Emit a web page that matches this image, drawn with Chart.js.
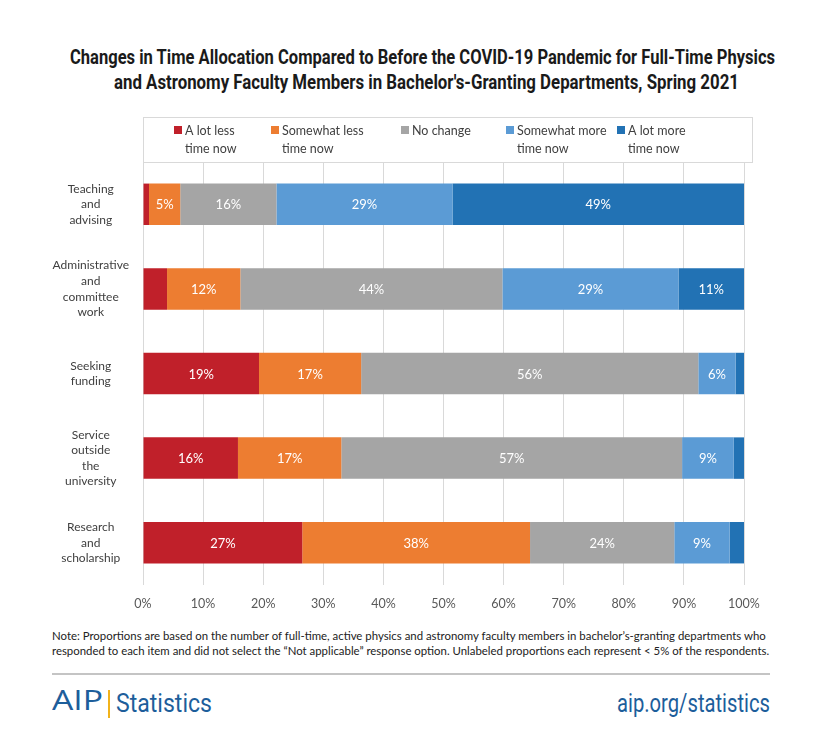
<!DOCTYPE html>
<html>
<head>
<meta charset="utf-8">
<script src="https://cdn.jsdelivr.net/npm/chart.js@4.4.1/dist/chart.umd.min.js"></script>
<style>
  html, body { margin: 0; padding: 0; background: #fff; }
  body { width: 820px; height: 754px; position: relative; overflow: hidden; font-family: Lato, sans-serif; }
  .fit { position: absolute; white-space: nowrap; transform-origin: 0 0; }
  .title { font-family: Roboto, sans-serif; font-weight: bold; font-size: 20px; line-height: 24px; color: #1a1a1a; }
  #wrap { position: absolute; top: 100px; left: 0; width: 820px; height: 527px; }
  #note {
    position: absolute; top: 628px; left: 52px; width: 740px;
    font-size: 11.4px; line-height: 15px; color: #222;
  }
  #rule { position: absolute; top: 673px; left: 52px; width: 718px; height: 2px; background: #c4c4c4; }
  .blue { color: #1d5e9b; font-size: 26px; line-height: 30px; }
  .narrow { font-family: Roboto, sans-serif; }
  #aip { font-family: 'Open Sans', sans-serif; font-size: 27px; }
  #ybar { position: absolute; left: 108px; top: 690px; width: 2px; height: 28px; background: #f2b31b; }
</style>
</head>
<body>
<div class="fit title" id="t1" data-w="705" style="left:70px; top:45px;">Changes in Time Allocation Compared to Before the COVID-19 Pandemic for Full-Time Physics</div>
<div class="fit title" id="t2" data-w="625" style="left:114px; top:70px;">and Astronomy Faculty Members in Bachelor's-Granting Departments, Spring 2021</div>
<div id="wrap"><canvas id="chart"></canvas></div>
<div id="note">Note: Proportions are based on the number of full-time, active physics and astronomy faculty members in bachelor’s-granting departments who responded to each item and did not select the “Not applicable” response option. Unlabeled proportions each represent &lt; 5% of the respondents.</div>
<div id="rule"></div>
<div class="fit blue" id="aip" data-w="51" style="left:52px; top:685px;">AIP</div>
<div id="ybar"></div>
<div class="fit blue narrow" data-w="96" style="left:116px; top:688px;">Statistics</div>
<div class="fit blue narrow" data-w="153" style="left:617px; top:688px;">aip.org/statistics</div>

<script>
// categories (multi-line axis labels)
const categories = [
    ['Teaching', 'and', 'advising'],
    ['Administrative', 'and', 'committee', 'work'],
    ['Seeking', 'funding'],
    ['Service', 'outside', 'the', 'university'],
    ['Research', 'and', 'scholarship']
];

// series names (two-line legend text)
const seriesNames = [
    ['A lot less', 'time now'],
    ['Somewhat less', 'time now'],
    ['No change'],
    ['Somewhat more', 'time now'],
    ['A lot more', 'time now']
];

const seriesColors = ['#c0202a', '#ed7d31', '#a5a5a5', '#5b9bd5', '#2272b4'];

// percent of respondents, per category in the order above
const aLotLess     = [1.0, 4.0, 19.3, 15.8, 26.5];
const somewhatLess = [5.2, 12.2, 17.0, 17.2, 37.9];
const noChange     = [16.0, 43.6, 56.1, 56.7, 24.0];
const somewhatMore = [29.3, 29.3, 6.2, 8.6, 9.2];
const aLotMore     = [48.5, 10.9, 1.4, 1.7, 2.4];

const seriesValues = [aLotLess, somewhatLess, noChange, somewhatMore, aLotMore];

const xTicks = [0, 10, 20, 30, 40, 50, 60, 70, 80, 90, 100];

document.addEventListener('DOMContentLoaded', function () {
    // squeeze condensed-looking text to its measured width
    document.querySelectorAll('.fit[data-w]').forEach(el => {
        const w = el.getBoundingClientRect().width;
        el.style.transform = 'scaleX(' + (parseFloat(el.dataset.w) / w) + ')';
    });

    const ctx = document.getElementById('chart').getContext('2d');

    // white percent labels inside bar segments (only >= 5%)
    const segmentLabels = {
        id: 'segmentLabels',
        afterDatasetsDraw(chart) {
            const c = chart.ctx;
            c.save();
            c.font = '13px Lato, sans-serif';
            c.fillStyle = '#ffffff';
            c.textAlign = 'center';
            c.textBaseline = 'middle';
            chart.data.datasets.forEach((ds, i) => {
                const meta = chart.getDatasetMeta(i);
                meta.data.forEach((bar, j) => {
                    const v = ds.data[j];
                    if (v < 5) return;
                    c.fillText(Math.round(v) + '%', (bar.x + bar.base) / 2, bar.y + 1);
                });
            });
            c.restore();
        }
    };

    // boxed legend above the plot with two-line entries
    const boxLegend = {
        id: 'boxLegend',
        afterDraw(chart) {
            const c = chart.ctx;
            const area = chart.chartArea;
            const top = area.top - 45;
            const offsets = [31, 128, 258, 363, 474];
            c.save();
            c.strokeStyle = '#d9d9d9';
            c.lineWidth = 1;
            c.strokeRect(area.left + 0.5, top + 0.5, area.right - area.left + 8, 45);
            c.font = '12.5px Lato, sans-serif';
            c.textBaseline = 'middle';
            c.textAlign = 'left';
            chart.data.datasets.forEach((ds, i) => {
                const x = area.left + offsets[i];
                c.fillStyle = ds.backgroundColor;
                c.fillRect(x, top + 9, 8, 8);
                c.fillStyle = '#404040';
                seriesNames[i].forEach((line, k) => {
                    c.fillText(line, x + 11, top + 14 + k * 18);
                });
            });
            c.restore();
        }
    };

    new Chart(ctx, {
        type: 'bar',
        data: {
            labels: categories,
            datasets: seriesValues.map((vals, i) => ({
                label: seriesNames[i].join(' '),
                data: vals,
                backgroundColor: seriesColors[i],
                borderWidth: 0,
                categoryPercentage: 1,
                barPercentage: 0.49
            }))
        },
        options: {
            indexAxis: 'y',
            responsive: true,
            maintainAspectRatio: false,
            animation: false,
            layout: {
                padding: { top: 62, right: 76, left: 40, bottom: 4 }
            },
            scales: {
                x: {
                    stacked: true,
                    min: 0,
                    max: 100,
                    afterBuildTicks: (scale) => {
                        scale.ticks = xTicks.map(v => ({ value: v }));
                    },
                    ticks: {
                        callback: v => v + '%',
                        color: '#595959',
                        font: { family: 'Lato', size: 12.5 },
                        padding: 11.5,
                        maxRotation: 0
                    },
                    grid: { color: '#d9d9d9', drawTicks: false },
                    border: { display: false }
                },
                y: {
                    stacked: true,
                    afterFit: (scale) => { scale.width = 103; },
                    ticks: {
                        color: '#404040',
                        font: { family: 'Lato', size: 12, lineHeight: 1.3 },
                        crossAlign: 'center',
                        padding: 6
                    },
                    grid: { display: false },
                    border: { display: false }
                }
            },
            plugins: {
                legend: { display: false },
                tooltip: { enabled: false }
            }
        },
        plugins: [segmentLabels, boxLegend]
    });
});
</script>
</body>
</html>
